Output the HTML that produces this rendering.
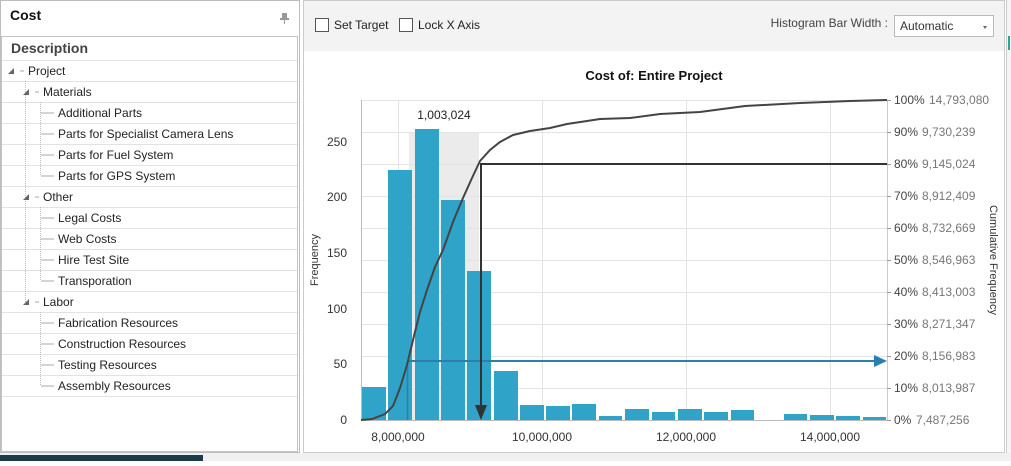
<!DOCTYPE html>
<html><head><meta charset="utf-8"><style>
body{margin:0;width:1011px;height:461px;overflow:hidden;background:#fff;font-family:"Liberation Sans",sans-serif;}
</style></head><body>
<svg width="1011" height="461" xmlns="http://www.w3.org/2000/svg" font-family="Liberation Sans, sans-serif">
<!-- left panel -->
<rect x="0.5" y="0.5" width="299" height="452" fill="#fff" stroke="#bdbdbd"/>
<text x="10" y="20" font-size="14" font-weight="bold" fill="#111">Cost</text>
<rect x="282" y="13" width="5" height="6" fill="#999"/><rect x="280" y="18" width="9" height="2" fill="#999"/><rect x="284" y="20" width="1" height="4" fill="#999"/>
<rect x="1.5" y="36.5" width="296" height="415" fill="none" stroke="#888" stroke-dasharray="1,1"/>
<text x="11" y="53" font-size="14" font-weight="bold" fill="#444">Description</text>
<g stroke="#e2e2e2">
<line x1="2" y1="60.5" x2="297" y2="60.5"/><line x1="2" y1="81.5" x2="297" y2="81.5"/><line x1="2" y1="102.5" x2="297" y2="102.5"/><line x1="2" y1="123.5" x2="297" y2="123.5"/><line x1="2" y1="144.5" x2="297" y2="144.5"/><line x1="2" y1="165.5" x2="297" y2="165.5"/><line x1="2" y1="186.5" x2="297" y2="186.5"/><line x1="2" y1="207.5" x2="297" y2="207.5"/><line x1="2" y1="228.5" x2="297" y2="228.5"/><line x1="2" y1="249.5" x2="297" y2="249.5"/><line x1="2" y1="270.5" x2="297" y2="270.5"/><line x1="2" y1="291.5" x2="297" y2="291.5"/><line x1="2" y1="312.5" x2="297" y2="312.5"/><line x1="2" y1="333.5" x2="297" y2="333.5"/><line x1="2" y1="354.5" x2="297" y2="354.5"/><line x1="2" y1="375.5" x2="297" y2="375.5"/><line x1="2" y1="396.5" x2="297" y2="396.5"/>
</g>
<g stroke="#bbb" stroke-dasharray="1,1">
<line x1="25.5" y1="81" x2="25.5" y2="302"/>
<line x1="40.5" y1="102" x2="40.5" y2="176"/><line x1="40.5" y1="207" x2="40.5" y2="281"/><line x1="40.5" y1="312" x2="40.5" y2="386"/>
</g>
<g stroke="#aaa">
<line x1="41" y1="113" x2="54" y2="113"/><line x1="41" y1="134" x2="54" y2="134"/><line x1="41" y1="155" x2="54" y2="155"/><line x1="41" y1="176" x2="54" y2="176"/>
<line x1="41" y1="218" x2="54" y2="218"/><line x1="41" y1="239" x2="54" y2="239"/><line x1="41" y1="260" x2="54" y2="260"/><line x1="41" y1="281" x2="54" y2="281"/>
<line x1="41" y1="323" x2="54" y2="323"/><line x1="41" y1="344" x2="54" y2="344"/><line x1="41" y1="365" x2="54" y2="365"/><line x1="41" y1="386" x2="54" y2="386"/>
<line x1="20" y1="71" x2="24" y2="71"/><line x1="35" y1="92" x2="39" y2="92"/><line x1="35" y1="197" x2="39" y2="197"/><line x1="35" y1="302" x2="39" y2="302"/>
</g>
<g fill="#666"><polygon points="8,74 14,74 14,68"/><polygon points="23,95 29,95 29,89"/><polygon points="23,200 29,200 29,194"/><polygon points="23,305 29,305 29,299"/></g>
<g font-size="12" fill="#222">
<text x="28" y="75">Project</text><text x="43" y="96">Materials</text>
<text x="58" y="117">Additional Parts</text><text x="58" y="138">Parts for Specialist Camera Lens</text><text x="58" y="159">Parts for Fuel System</text><text x="58" y="180">Parts for GPS System</text>
<text x="43" y="201">Other</text>
<text x="58" y="222">Legal Costs</text><text x="58" y="243">Web Costs</text><text x="58" y="264">Hire Test Site</text><text x="58" y="285">Transporation</text>
<text x="43" y="306">Labor</text>
<text x="58" y="327">Fabrication Resources</text><text x="58" y="348">Construction Resources</text><text x="58" y="369">Testing Resources</text><text x="58" y="390">Assembly Resources</text>
</g>
<rect x="0" y="453" width="1011" height="8" fill="#f0f0f0"/>
<rect x="0" y="455" width="203" height="6" fill="#1e3a48"/>
<!-- right panel -->
<rect x="303.5" y="0.5" width="701" height="452" fill="#fff" stroke="#ccc"/>
<rect x="304" y="1" width="700" height="50" fill="#f3f3f3"/>
<rect x="1006" y="0" width="5" height="453" fill="#f4f4f4"/><line x1="1006.5" y1="0" x2="1006.5" y2="453" stroke="#ccc"/>
<rect x="1008" y="36" width="2" height="14" fill="#2a9"/>
<rect x="315.5" y="18.5" width="13" height="13" fill="#fff" stroke="#555"/>
<text x="334" y="29" font-size="12" fill="#222">Set Target</text>
<rect x="399.5" y="18.5" width="13" height="13" fill="#fff" stroke="#555"/>
<text x="418" y="29" font-size="12" fill="#222">Lock X Axis</text>
<text x="888" y="27" font-size="12" fill="#444" text-anchor="end">Histogram Bar Width :</text>
<rect x="894.5" y="15.5" width="99" height="21" fill="#fff" stroke="#bbb"/>
<text x="900" y="30" font-size="12" fill="#333">Automatic</text>
<polygon points="983,26 987,26 985,29" fill="#666"/>
<text x="654" y="80" font-size="13" font-weight="bold" fill="#111" text-anchor="middle">Cost of: Entire Project</text>
<!-- chart -->
<rect x="409" y="132" width="70" height="288" fill="#ebebeb"/>
<rect x="409" y="100" width="70" height="32" fill="#fff"/>
<g stroke="#e4e4e4">
<line x1="361" y1="100.5" x2="887" y2="100.5"/><line x1="361" y1="132.5" x2="887" y2="132.5"/><line x1="361" y1="164.5" x2="887" y2="164.5"/><line x1="361" y1="196.5" x2="887" y2="196.5"/><line x1="361" y1="228.5" x2="887" y2="228.5"/><line x1="361" y1="260.5" x2="887" y2="260.5"/><line x1="361" y1="292.5" x2="887" y2="292.5"/><line x1="361" y1="324.5" x2="887" y2="324.5"/><line x1="361" y1="356.5" x2="887" y2="356.5"/><line x1="361" y1="388.5" x2="887" y2="388.5"/>
<line x1="398.5" y1="100" x2="398.5" y2="420"/><line x1="542.5" y1="100" x2="542.5" y2="420"/><line x1="686.5" y1="100" x2="686.5" y2="420"/><line x1="830.5" y1="100" x2="830.5" y2="420"/>
</g>
<text x="444" y="119" font-size="12" fill="#222" text-anchor="middle">1,003,024</text>
<g fill="#2fa4c8">
<rect x="362" y="387" width="24" height="33"/><rect x="388" y="170" width="24" height="250"/><rect x="415" y="129" width="24" height="291"/><rect x="441" y="200" width="24" height="220"/><rect x="467" y="271" width="24" height="149"/><rect x="494" y="371" width="24" height="49"/>
<rect x="520" y="405" width="24" height="15"/><rect x="546" y="406" width="24" height="14"/><rect x="572" y="404" width="24" height="16"/><rect x="599" y="416" width="23" height="4"/><rect x="625" y="409" width="24" height="11"/><rect x="652" y="412" width="23" height="8"/><rect x="678" y="409" width="24" height="11"/><rect x="704" y="412" width="24" height="8"/><rect x="731" y="410" width="23" height="10"/>
<rect x="784" y="414" width="23" height="6"/><rect x="810" y="415" width="24" height="5"/><rect x="836" y="416" width="24" height="4"/><rect x="863" y="417" width="23" height="3"/>
</g>
<line x1="361.5" y1="100" x2="361.5" y2="420" stroke="#bbb"/>
<line x1="361" y1="420.5" x2="887" y2="420.5" stroke="#bbb"/>
<line x1="887.5" y1="100" x2="887.5" y2="420" stroke="#ccc"/>
<!-- blue 20% -->
<line x1="407.5" y1="361" x2="407.5" y2="420" stroke="#2a7fae" stroke-width="1.5"/>
<line x1="407" y1="361" x2="876" y2="361" stroke="#2a7fae" stroke-width="2"/>
<polygon points="874,355 887,361 874,367" fill="#2a7fae"/>
<!-- curve -->
<polyline fill="none" stroke="#444" stroke-width="2" points="361,420 372,419 385,414 393,406 400,388 407,365 413,340 420,312 427,290 435,267 443,250 453,222 463,198 472,178 480,161 490,150 500,142 513,135 530,131 550,128 567,124 587,121 600,119 630,118 660,114 700,112 745,106 800,103 850,101 887,100"/>
<!-- 80% -->
<polyline fill="none" stroke="#333" stroke-width="2" points="887,164 481,164 481,408"/>
<polygon points="475,405 481,420 487,405" fill="#333"/>
<!-- labels -->
<g font-size="12" fill="#333" text-anchor="end">
<text x="347" y="424">0</text><text x="347" y="368">50</text><text x="347" y="313">100</text><text x="347" y="257">150</text><text x="347" y="201">200</text><text x="347" y="146">250</text>
</g>
<g font-size="12" fill="#333" text-anchor="middle">
<text x="398" y="441">8,000,000</text><text x="542" y="441">10,000,000</text><text x="686" y="441">12,000,000</text><text x="830" y="441">14,000,000</text>
</g>
<g font-size="12" fill="#444">
<text x="894" y="104">100%</text><text x="894" y="136">90%</text><text x="894" y="168">80%</text><text x="894" y="200">70%</text><text x="894" y="232">60%</text><text x="894" y="264">50%</text><text x="894" y="296">40%</text><text x="894" y="328">30%</text><text x="894" y="360">20%</text><text x="894" y="392">10%</text><text x="894" y="424">0%</text>
</g>
<g font-size="12" fill="#777">
<text x="929" y="104">14,793,080</text><text x="922" y="136">9,730,239</text><text x="922" y="168">9,145,024</text><text x="922" y="200">8,912,409</text><text x="922" y="232">8,732,669</text><text x="922" y="264">8,546,963</text><text x="922" y="296">8,413,003</text><text x="922" y="328">8,271,347</text><text x="922" y="360">8,156,983</text><text x="922" y="392">8,013,987</text><text x="916" y="424">7,487,256</text>
</g>
<g stroke="#999"><line x1="887" y1="100.5" x2="891" y2="100.5"/><line x1="887" y1="132.5" x2="891" y2="132.5"/><line x1="887" y1="164.5" x2="891" y2="164.5"/><line x1="887" y1="196.5" x2="891" y2="196.5"/><line x1="887" y1="228.5" x2="891" y2="228.5"/><line x1="887" y1="260.5" x2="891" y2="260.5"/><line x1="887" y1="292.5" x2="891" y2="292.5"/><line x1="887" y1="324.5" x2="891" y2="324.5"/><line x1="887" y1="356.5" x2="891" y2="356.5"/><line x1="887" y1="388.5" x2="891" y2="388.5"/><line x1="887" y1="420.5" x2="891" y2="420.5"/></g>
<text transform="translate(318,260) rotate(-90)" font-size="11" fill="#333" text-anchor="middle">Frequency</text>
<text transform="translate(990,260) rotate(90)" font-size="11" fill="#333" text-anchor="middle">Cumulative Frequency</text>
</svg>
</body></html>
